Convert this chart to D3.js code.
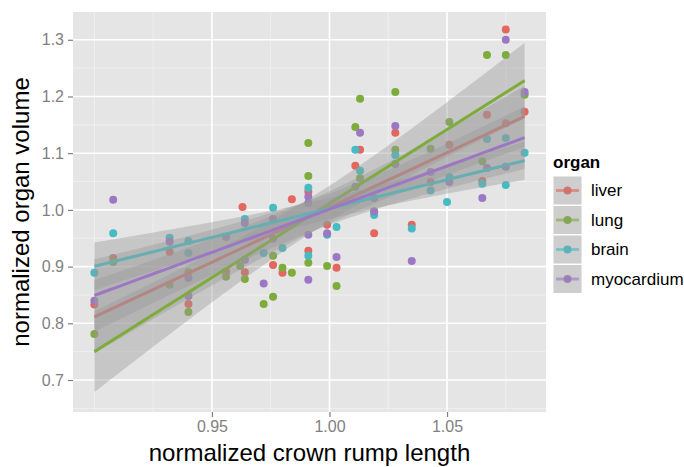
<!DOCTYPE html>
<html>
<head>
<meta charset="utf-8">
<script src="https://cdn.jsdelivr.net/npm/d3@7"></script>
<style>
body { margin: 0; background: #fff; }
text { font-family: "Liberation Sans", Arial, sans-serif; }
</style>
</head>
<body>
<div id="viz"></div>
<script>
// data
var organs = ["liver", "lung", "brain", "myocardium"];
var colors = ["#E3675E", "#7DAC3A", "#45BCC4", "#9C78C4"];

var liverX = [0.900, 0.908, 0.932, 0.940, 0.956, 0.963, 0.964, 0.976, 0.980, 0.984, 0.991, 0.991, 0.999, 1.003, 1.011, 1.013, 1.019, 1.028, 1.035, 1.043, 1.051, 1.065, 1.067, 1.075, 1.075, 1.083];
var liverY = [0.833, 0.915, 0.926, 0.834, 0.891, 1.005, 0.890, 0.903, 0.889, 1.019, 1.032, 0.928, 0.974, 0.898, 1.078, 1.106, 0.959, 1.136, 0.974, 1.049, 1.115, 1.051, 1.168, 1.318, 1.153, 1.173];

var lungX = [0.900, 0.908, 0.932, 0.940, 0.940, 0.956, 0.962, 0.964, 0.972, 0.976, 0.976, 0.980, 0.984, 0.991, 0.991, 0.991, 0.999, 1.003, 1.011, 1.013, 1.013, 1.019, 1.028, 1.028, 1.043, 1.051, 1.065, 1.067, 1.075, 1.083];
var lungY = [0.781, 0.908, 0.868, 0.890, 0.820, 0.882, 0.901, 0.878, 0.834, 0.919, 0.847, 0.898, 0.889, 1.118, 1.060, 0.907, 0.901, 0.866, 1.146, 1.196, 1.056, 0.997, 1.208, 1.106, 1.108, 1.155, 1.086, 1.273, 1.273, 1.203];

var brainX = [0.900, 0.908, 0.932, 0.940, 0.940, 0.964, 0.972, 0.976, 0.980, 0.991, 0.991, 0.999, 1.003, 1.011, 1.013, 1.019, 1.028, 1.035, 1.043, 1.050, 1.051, 1.065, 1.067, 1.075, 1.075, 1.083];
var brainY = [0.889, 0.959, 0.951, 0.945, 0.924, 0.984, 0.924, 1.004, 0.933, 1.039, 0.919, 0.956, 0.970, 1.106, 1.069, 0.991, 1.097, 0.967, 1.034, 1.014, 1.058, 1.046, 1.125, 1.044, 1.127, 1.101];

var myoX = [0.900, 0.908, 0.932, 0.940, 0.940, 0.956, 0.964, 0.964, 0.972, 0.976, 0.976, 0.991, 0.991, 0.991, 0.991, 0.999, 1.003, 1.011, 1.013, 1.019, 1.019, 1.028, 1.028, 1.035, 1.043, 1.051, 1.065, 1.067, 1.075, 1.075, 1.083];
var myoY = [0.840, 1.018, 0.944, 0.880, 0.848, 0.952, 0.977, 0.912, 0.870, 0.984, 0.949, 1.023, 1.012, 0.956, 0.877, 0.959, 0.917, 1.041, 1.136, 1.021, 0.997, 1.148, 1.081, 0.910, 1.067, 1.049, 1.021, 1.074, 1.300, 1.076, 1.208];

var xTicks = [0.95, 1.00, 1.05];
var xMinor = [0.90, 0.925, 0.975, 1.025, 1.075];
var yTicks = [0.7, 0.8, 0.9, 1.0, 1.1, 1.2, 1.3];
var yMinor = [0.65, 0.75, 0.85, 0.95, 1.05, 1.15, 1.25];

var seriesX = [liverX, lungX, brainX, myoX];
var seriesY = [liverY, lungY, brainY, myoY];

// set the dimensions
var width = 684, height = 467;
var panel = {left: 73, right: 546, top: 12, bottom: 412};

var svg = d3.select("#viz")
  .append("svg")
    .attr("width", width)
    .attr("height", height);

var x = d3.scaleLinear().domain([0.8909, 1.0921]).range([panel.left, panel.right]);
var y = d3.scaleLinear().domain([0.6436, 1.349]).range([panel.bottom, panel.top]);

// panel background + grid
svg.append("rect")
  .attr("x", panel.left).attr("y", panel.top)
  .attr("width", panel.right - panel.left).attr("height", panel.bottom - panel.top)
  .attr("fill", "#E5E5E5");

var grid = svg.append("g");
grid.selectAll(".xmin").data(xMinor).enter().append("line")
  .attr("x1", d => x(d)).attr("x2", d => x(d))
  .attr("y1", panel.top).attr("y2", panel.bottom)
  .attr("stroke", "#F2F2F2").attr("stroke-width", 0.8);
grid.selectAll(".ymin").data(yMinor).enter().append("line")
  .attr("y1", d => y(d)).attr("y2", d => y(d))
  .attr("x1", panel.left).attr("x2", panel.right)
  .attr("stroke", "#F2F2F2").attr("stroke-width", 0.8);
grid.selectAll(".xmaj").data(xTicks).enter().append("line")
  .attr("x1", d => x(d)).attr("x2", d => x(d))
  .attr("y1", panel.top).attr("y2", panel.bottom)
  .attr("stroke", "#fff").attr("stroke-width", 1.6);
grid.selectAll(".ymaj").data(yTicks).enter().append("line")
  .attr("y1", d => y(d)).attr("y2", d => y(d))
  .attr("x1", panel.left).attr("x2", panel.right)
  .attr("stroke", "#fff").attr("stroke-width", 1.6);

// points first (smooth layer is drawn on top, like ggplot)
organs.forEach(function(o, i) {
  var pts = seriesX[i].map(function(v, j) { return [v, seriesY[i][j]]; });
  svg.append("g").selectAll("circle")
    .data(pts).enter().append("circle")
      .attr("cx", d => x(d[0]))
      .attr("cy", d => y(d[1]))
      .attr("r", 4)
      .attr("fill", colors[i]);
});

// linear fit with 95% band
function fit(xs, ys) {
  var n = xs.length;
  var mx = d3.mean(xs), my = d3.mean(ys);
  var sxx = 0, sxy = 0;
  for (var k = 0; k < n; k++) {
    sxx += (xs[k] - mx) * (xs[k] - mx);
    sxy += (xs[k] - mx) * (ys[k] - my);
  }
  var b = sxy / sxx, a = my - b * mx;
  var sse = 0;
  for (var k = 0; k < n; k++) sse += Math.pow(ys[k] - (a + b * xs[k]), 2);
  var s = Math.sqrt(sse / (n - 2));
  var t = 1.96 + 2.4 / (n - 2);
  var lo = d3.min(xs), hi = d3.max(xs);
  return d3.range(0, 81).map(function(k) {
    var xv = lo + (hi - lo) * k / 80;
    var yv = a + b * xv;
    var se = s * Math.sqrt(1 / n + (xv - mx) * (xv - mx) / sxx);
    return {x: xv, y: yv, lo: yv - t * se, hi: yv + t * se};
  });
}

var area = d3.area()
  .x(d => x(d.x))
  .y0(d => y(d.lo))
  .y1(d => y(d.hi));
var line = d3.line()
  .x(d => x(d.x))
  .y(d => y(d.y));

organs.forEach(function(o, i) {
  var f = fit(seriesX[i], seriesY[i]);
  svg.append("path").datum(f)
    .attr("d", area)
    .attr("fill", "#999999")
    .attr("fill-opacity", 0.4);
  svg.append("path").datum(f)
    .attr("d", line)
    .attr("fill", "none")
    .attr("stroke", colors[i])
    .attr("stroke-width", 3);
});

// axes
var xAxis = svg.append("g")
  .attr("transform", "translate(0," + panel.bottom + ")")
  .call(d3.axisBottom(x).tickValues(xTicks).tickFormat(d3.format(".2f")).tickSize(5).tickPadding(4));
var yAxis = svg.append("g")
  .attr("transform", "translate(" + panel.left + ",0)")
  .call(d3.axisLeft(y).tickValues(yTicks).tickFormat(d3.format(".1f")).tickSize(5).tickPadding(4));
[xAxis, yAxis].forEach(function(ax) {
  ax.select(".domain").remove();
  ax.selectAll(".tick line").attr("stroke", "#7F7F7F").attr("stroke-width", 1.2);
  ax.selectAll(".tick text")
    .attr("fill", "#7F7F7F")
    .style("font-size", "16px")
    .style("font-family", "'Liberation Sans', Arial, sans-serif");
});

// axis titles
svg.append("text")
  .attr("x", (panel.left + panel.right) / 2)
  .attr("y", 461)
  .attr("text-anchor", "middle")
  .style("font-size", "24px")
  .text("normalized crown rump length");

svg.append("text")
  .attr("transform", "translate(29," + (panel.top + panel.bottom) / 2 + ") rotate(-90)")
  .attr("text-anchor", "middle")
  .style("font-size", "24px")
  .text("normalized organ volume");

// legend
var legend = svg.append("g").attr("transform", "translate(553,0)");
legend.append("text")
  .attr("x", 0).attr("y", 168)
  .style("font-size", "17px")
  .style("font-weight", "bold")
  .text("organ");

var keys = legend.selectAll(".key").data(organs).enter().append("g")
  .attr("transform", (d, i) => "translate(0," + (176 + i * 29.5) + ")");
keys.append("rect")
  .attr("width", 29).attr("height", 29)
  .attr("fill", "#F2F2F2")
  .attr("stroke", "#fff").attr("stroke-width", 1);
keys.append("circle")
  .attr("cx", 14.5).attr("cy", 14.5).attr("r", 4)
  .attr("fill", (d, i) => colors[i]);
keys.append("rect")
  .attr("x", 0.5).attr("y", 0.5)
  .attr("width", 28).attr("height", 28)
  .attr("fill", "#999999").attr("fill-opacity", 0.4);
keys.append("line")
  .attr("x1", 3).attr("x2", 26).attr("y1", 14.5).attr("y2", 14.5)
  .attr("stroke", (d, i) => colors[i])
  .attr("stroke-opacity", 0.6)
  .attr("stroke-width", 3);
keys.append("text")
  .attr("x", 38).attr("y", 14.5).attr("dy", "0.35em")
  .style("font-size", "17px")
  .text(d => d);
</script>
</body>
</html>
